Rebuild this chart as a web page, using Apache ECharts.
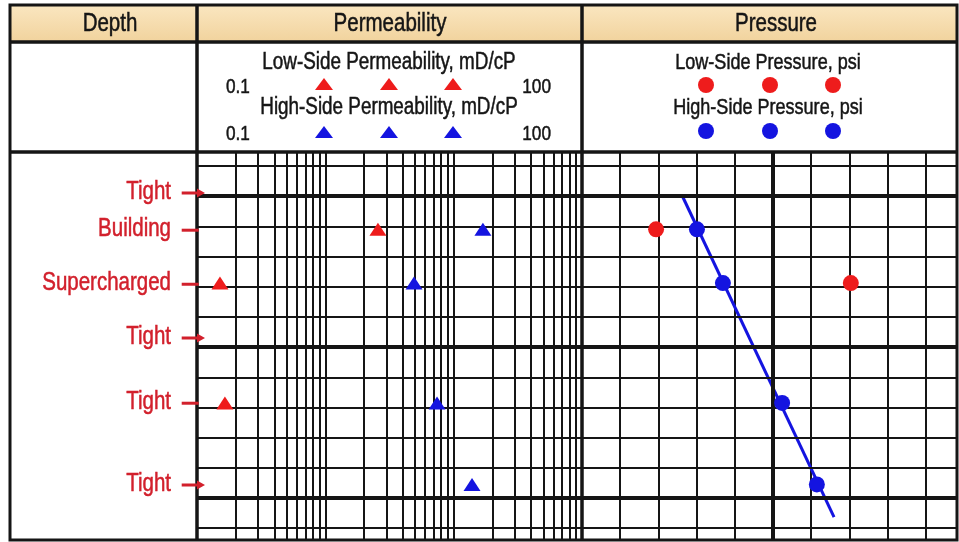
<!DOCTYPE html>
<html><head><meta charset="utf-8">
<script src="https://cdn.jsdelivr.net/npm/echarts@6/dist/echarts.min.js"></script>
<style>html,body{margin:0;padding:0;background:#fff}#c{width:959px;height:542px}</style>
</head><body><div id="c"></div>
<script>
// ---------- data ----------
const zoneNames = ['Tight', 'Building', 'Supercharged', 'Tight', 'Tight', 'Tight'];
const zoneDepths = [4999, 5011.3, 5029.2, 5047, 5068.6, 5095.7];
const zoneOffScale = [true, false, false, true, false, true];

const sampleDepths = [5011, 5028.8, 5068.5, 5095.5];
const lowPerm = [2.57, 0.151, 0.165, null];     // mD/cP
const highPerm = [16.9, 4.91, 7.42, 13.9];      // mD/cP
const lowPress = [194, 704, null, null];        // psi
const highPress = [301, 369, 524, 615];         // psi

const gradDepths = [5000.3, 5106.3];
const gradPress = [264, 660];

// grid tick values
const depthMinorTicks = [4990, 5000, 5010, 5020, 5030, 5040, 5050, 5060, 5070, 5080, 5090, 5100, 5110];
const depthMajorTicks = [5000, 5050, 5100];
const permTicks = [0.2, 0.3, 0.4, 0.5, 0.6, 0.7, 0.8, 0.9, 1, 2, 3, 4, 5, 6, 7, 8, 9, 10, 20, 30, 40, 50, 60, 70, 80, 90];
const pressMajorTicks = [500];
const legendPermTicks = ['0.1', '100'];

// ---------- style ----------
const FONT = "'Liberation Sans', Arial, sans-serif";
const NARROW = 0.82;
const RED = '#ee1c1c', BLUE = '#1414e0', LABEL_RED = '#d2202c', INK = '#151515';
const DEPTH_MIN = 4985.4, DEPTH_MAX = 5113.9;
const GT = 152, GH = 388;

const chart = echarts.init(document.getElementById('c'), null, { renderer: 'canvas' });

function yAx(i) {
  return { type: 'value', gridIndex: i, inverse: true, min: DEPTH_MIN, max: DEPTH_MAX, show: false };
}
const thin = { color: INK, width: 2, type: 'solid' };
const thick = { color: INK, width: 4, type: 'solid' };

function pairs(xs, ys) {
  const out = [];
  xs.forEach((x, i) => { if (x != null) out.push([x, ys[i]]); });
  return out;
}

const graphics = [];
graphics.push({ type: 'rect', z: 0, shape: { x: 10, y: 5, width: 947, height: 37 },
  style: { fill: new echarts.graphic.LinearGradient(0, 0, 0, 1, [{ offset: 0, color: '#fae6c0' }, { offset: 1, color: '#f1d39d' }]) } });
function txt(t, x, y, size, align, color) {
  const c = color || INK;
  graphics.push({ type: 'text', z: 50, x: x, y: y, scaleX: NARROW,
    style: { text: t, x: 0, y: 0, fill: c, stroke: c, lineWidth: 0.5, font: size + 'px ' + FONT,
      textAlign: align || 'center', textVerticalAlign: 'middle', align: align || 'center', verticalAlign: 'middle' } });
}
txt('Depth', 110, 24, 25);
txt('Permeability', 390, 24, 25);
txt('Pressure', 776, 24, 25);
txt('Low-Side Permeability, mD/cP', 389, 63, 23);
txt('High-Side Permeability, mD/cP', 389, 108, 23);
txt(legendPermTicks[0], 226, 87, 21, 'left');
txt(legendPermTicks[1], 551, 87, 21, 'right');
txt(legendPermTicks[0], 226, 134, 21, 'left');
txt(legendPermTicks[1], 551, 134, 21, 'right');
txt('Low-Side Pressure, psi', 768, 63, 22);
txt('High-Side Pressure, psi', 768, 108, 22);
[324, 389, 453].forEach(cx => {
  graphics.push({ type: 'polygon', z: 50, shape: { points: [[cx - 9, 90], [cx + 9, 90], [cx, 78]] }, style: { fill: RED } });
  graphics.push({ type: 'polygon', z: 50, shape: { points: [[cx - 9, 138], [cx + 9, 138], [cx, 126]] }, style: { fill: BLUE } });
});
[706, 770, 833].forEach(cx => {
  graphics.push({ type: 'circle', z: 50, shape: { cx: cx, cy: 85, r: 8 }, style: { fill: RED } });
  graphics.push({ type: 'circle', z: 50, shape: { cx: cx, cy: 131, r: 8 }, style: { fill: BLUE } });
});
graphics.push({ type: 'rect', z: 50, shape: { x: 10, y: 5, width: 947, height: 535 }, style: { fill: null, stroke: INK, lineWidth: 3 } });
graphics.push({ type: 'line', z: 50, shape: { x1: 10, y1: 42, x2: 957, y2: 42 }, style: { stroke: INK, lineWidth: 3.5 } });
graphics.push({ type: 'line', z: 50, shape: { x1: 10, y1: 152, x2: 957, y2: 152 }, style: { stroke: INK, lineWidth: 3.5 } });
graphics.push({ type: 'line', z: 50, shape: { x1: 197, y1: 5, x2: 197, y2: 540 }, style: { stroke: INK, lineWidth: 3.5 } });
graphics.push({ type: 'line', z: 50, shape: { x1: 582, y1: 5, x2: 582, y2: 540 }, style: { stroke: INK, lineWidth: 3.5 } });

function hLines() {
  return depthMinorTicks.map(v => ({ yAxis: v, lineStyle: depthMajorTicks.indexOf(v) >= 0 ? thick : thin }));
}

function renderZone(params, api) {
  const i = params.dataIndex;
  const p = api.coord([api.value(0), api.value(1)]);
  const x0 = p[0], y0 = p[1];
  const children = [{
    type: 'text', x: x0 - 26, y: y0 - 1, scaleX: NARROW,
    style: { text: zoneNames[i], x: 0, y: 0, fill: LABEL_RED, stroke: LABEL_RED, lineWidth: 0.5,
      font: '25px ' + FONT, align: 'right', verticalAlign: 'middle' }
  }];
  if (zoneOffScale[i]) {
    children.push({ type: 'polygon', shape: { points: [
      [x0 - 15.3, y0 - 1.5], [x0, y0 - 1.5], [x0, y0 - 4.5], [x0 + 8, y0], [x0, y0 + 4.5], [x0, y0 + 1.5], [x0 - 15.3, y0 + 1.5]] },
      style: { fill: LABEL_RED } });
  } else {
    children.push({ type: 'rect', shape: { x: x0 - 15.3, y: y0 - 1.5, width: 17, height: 3 }, style: { fill: LABEL_RED } });
  }
  return { type: 'group', children: children };
}

const option = {
  animation: false,
  backgroundColor: '#ffffff',
  textStyle: { fontFamily: FONT },
  grid: [
    { left: 197, top: GT, width: 385, height: GH },
    { left: 582, top: GT, width: 375, height: GH },
    { left: 10, top: GT, width: 187, height: GH }
  ],
  xAxis: [
    { type: 'log', logBase: 10, gridIndex: 0, min: 0.1, max: 100, show: false },
    { type: 'value', gridIndex: 1, min: 0, max: 982, interval: 100,
      axisLine: { show: false }, axisTick: { show: false }, axisLabel: { show: false },
      splitLine: { show: true, lineStyle: thin } },
    { type: 'value', gridIndex: 2, min: 0, max: 1, show: false }
  ],
  yAxis: [yAx(0), yAx(1), yAx(2)],
  graphic: { elements: graphics },
  series: [
    { name: 'permGrid', type: 'scatter', xAxisIndex: 0, yAxisIndex: 0, data: [], z: 1, silent: true,
      markLine: { silent: true, symbol: ['none', 'none'], label: { show: false }, animation: false,
        data: permTicks.map(v => ({ xAxis: v, lineStyle: thin })).concat(hLines()) } },
    { name: 'pressGrid', type: 'scatter', xAxisIndex: 1, yAxisIndex: 1, data: [], z: 1, silent: true,
      markLine: { silent: true, symbol: ['none', 'none'], label: { show: false }, animation: false,
        data: pressMajorTicks.map(v => ({ xAxis: v, lineStyle: thick })).concat(hLines()) } },
    { name: 'Low-Side Permeability', type: 'scatter', xAxisIndex: 0, yAxisIndex: 0, z: 5,
      symbol: 'triangle', symbolSize: [17, 13], itemStyle: { color: RED, opacity: 1 },
      data: pairs(lowPerm, sampleDepths) },
    { name: 'High-Side Permeability', type: 'scatter', xAxisIndex: 0, yAxisIndex: 0, z: 5,
      symbol: 'triangle', symbolSize: [17, 13], itemStyle: { color: BLUE, opacity: 1 },
      data: pairs(highPerm, sampleDepths) },
    { name: 'Gradient', type: 'line', xAxisIndex: 1, yAxisIndex: 1, z: 4, showSymbol: false,
      lineStyle: { color: BLUE, width: 3 }, data: pairs(gradPress, gradDepths) },
    { name: 'Low-Side Pressure', type: 'scatter', xAxisIndex: 1, yAxisIndex: 1, z: 5,
      symbol: 'circle', symbolSize: 16, itemStyle: { color: RED, opacity: 1 },
      data: pairs(lowPress, sampleDepths) },
    { name: 'High-Side Pressure', type: 'scatter', xAxisIndex: 1, yAxisIndex: 1, z: 5,
      symbol: 'circle', symbolSize: 16, itemStyle: { color: BLUE, opacity: 1 },
      data: pairs(highPress, sampleDepths) },
    { name: 'Zones', type: 'custom', xAxisIndex: 2, yAxisIndex: 2, z: 60, clip: false,
      renderItem: renderZone,
      data: zoneDepths.map(d => [1, d]) }
  ]
};
chart.setOption(option);
</script>
</body></html>
